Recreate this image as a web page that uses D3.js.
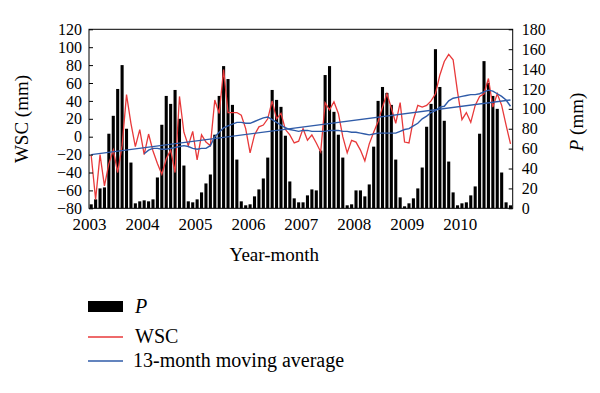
<!DOCTYPE html>
<html>
<head>
<meta charset="utf-8">
<script src="https://cdn.jsdelivr.net/npm/d3@7"></script>
<style>
  body { margin: 0; background: #fff; }
  text { font-family: "Liberation Serif", "Times New Roman", serif; fill: #000; }
</style>
</head>
<body>
<svg id="chart" width="600" height="393"></svg>
<script>
// years shown on the x axis, one bar per month
var years = [2003, 2004, 2005, 2006, 2007, 2008, 2009, 2010];

// monthly precipitation P (mm), right axis
var P = [
  4, 9, 20, 21, 75, 93, 120, 144, 80, 46, 5, 7,
  8, 7, 9, 31, 84, 113, 105, 119, 90, 43, 7, 6,
  9, 16, 25, 34, 74, 113, 143, 130, 104, 49, 7, 3,
  4, 12, 19, 30, 51, 119, 109, 102, 73, 27, 10, 6,
  6, 13, 19, 18, 58, 134, 143, 97, 74, 51, 3, 4,
  18, 18, 12, 24, 62, 108, 122, 116, 104, 49, 11, 2,
  5, 10, 20, 41, 82, 105, 160, 122, 88, 47, 16, 3,
  5, 6, 13, 22, 75, 148, 126, 113, 100, 36, 6, 3
];

// monthly WSC (mm), left axis
var WSC = [
  -21, -70, -20, -55, -30, -15, -40, -10, 47, 15, -11, 8,
  -20, 3, -16, -30, -42, -25, -15, -40, 45, 5, -10, 6,
  -26, 2, -6, -10, 41, 26, 75, 27, 27, 27, 24, 9,
  -18, 2, 11, 13, 20, 40, 20, 26, 8, 2, -7, -5,
  9, -4, 2, -7, -17, 38, 30, 39, 26, 0, -18, -4,
  -6, -15, -27, -8, 5, 17, 33, 48, 32, 15, 38, -6,
  -7, 19, 35, 33, 35, 40, 48, 69, 84, 92, 86, 50,
  19, 27, 16, 35, 45, 48, 65, 33, 48, 35, 13, -8
];

// 13-month moving average of WSC, starts 2004-01
var WSC_MA13 = [
  -19, -15, -13, -13, -14, -14, -13, -12, -11, -10, -11, -13,
  -14, -13, -13, -10, 0, 5, 10, 12, 14, 16, 16, 15,
  15, 17, 19, 21, 22, 19, 16, 13, 10, 8, 7, 6,
  7, 7, 6, 6, 6, 6, 7, 7, 7, 6, 6, 5,
  5, 4, 3, 2, 3, 4, 4, 4, 4, 4, 6, 8,
  9, 12, 15, 20, 23, 27, 29, 33, 34, 40, 43, 44,
  45, 46, 47, 47, 48, 50, 52, 51, 48, 45, 41, 34
];

// straight trend line of WSC: first and last month
var trendEnds = [-20, 41];

var wscTicks = [-80, -60, -40, -20, 0, 20, 40, 60, 80, 100, 120];
var pTicks = [0, 20, 40, 60, 80, 100, 120, 140, 160, 180];

var months = [];
years.forEach(function (y) {
  for (var m = 1; m <= 12; m++) months.push(y + "-" + (m < 10 ? "0" : "") + m);
});

var red = "#e8393a";
var blue = "#2f5ba8";

var plot = { left: 89, right: 512.7, top: 29.3, bottom: 208.3 };

var svg = d3.select("#chart");

var x = d3.scaleBand()
  .domain(months)
  .range([plot.left, plot.right])
  .paddingInner(0.3)
  .paddingOuter(0.15);

var xYear = d3.scaleLinear()
  .domain([years[0], years[years.length - 1] + 1])
  .range([plot.left, plot.right]);

var yL = d3.scaleLinear().domain([-80, 120]).range([plot.bottom, plot.top]);
var yR = d3.scaleLinear().domain([0, 180]).range([plot.bottom, plot.top]);

function cx(i) { return x(months[i]) + x.bandwidth() / 2; }

// bars
svg.append("g")
  .selectAll("rect")
  .data(P)
  .enter().append("rect")
  .attr("x", function (d, i) { return x(months[i]); })
  .attr("y", function (d) { return yR(d); })
  .attr("width", x.bandwidth())
  .attr("height", function (d) { return yR(0) - yR(d); })
  .attr("fill", "#000");

// WSC line
var line = d3.line()
  .x(function (d) { return cx(d.i); })
  .y(function (d) { return yL(d.v); });

svg.append("path")
  .datum(WSC.map(function (v, i) { return { i: i, v: v }; }))
  .attr("d", line)
  .attr("fill", "none")
  .attr("stroke", red)
  .attr("stroke-width", 1.3);

// moving average
var maStart = 12;
svg.append("path")
  .datum(WSC_MA13.map(function (v, i) { return { i: i + maStart, v: v }; }))
  .attr("d", line)
  .attr("fill", "none")
  .attr("stroke", blue)
  .attr("stroke-width", 1.4);

// straight trend line
svg.append("path")
  .datum([{ i: 0, v: trendEnds[0] }, { i: months.length - 1, v: trendEnds[1] }])
  .attr("d", line)
  .attr("fill", "none")
  .attr("stroke", blue)
  .attr("stroke-width", 1.4);

// frame
svg.append("rect")
  .attr("x", plot.left)
  .attr("y", plot.top)
  .attr("width", plot.right - plot.left)
  .attr("height", plot.bottom - plot.top)
  .attr("fill", "none")
  .attr("stroke", "#000")
  .attr("stroke-width", 1);

// axes
var leftAxis = svg.append("g")
  .attr("transform", "translate(" + plot.left + ",0)")
  .call(d3.axisLeft(yL).tickValues(wscTicks).tickSizeInner(-4).tickSizeOuter(0).tickPadding(7));

var rightAxis = svg.append("g")
  .attr("transform", "translate(" + plot.right + ",0)")
  .call(d3.axisRight(yR).tickValues(pTicks).tickSizeInner(-4).tickSizeOuter(0).tickPadding(9));

var bottomAxis = svg.append("g")
  .attr("transform", "translate(0," + plot.bottom + ")")
  .call(d3.axisBottom(xYear).tickValues(years).tickFormat(d3.format("d")).tickSize(0).tickPadding(10));

[leftAxis, rightAxis, bottomAxis].forEach(function (g) {
  g.select(".domain").remove();
  g.selectAll("line").attr("stroke", "#000");
  g.selectAll("text")
    .style("font-family", "'Liberation Serif', 'Times New Roman', serif")
    .style("font-size", "16px")
    .attr("fill", "#000");
});
bottomAxis.selectAll("text").style("font-size", "17px");

// axis titles
svg.append("text")
  .attr("transform", "translate(28,119) rotate(-90)")
  .attr("text-anchor", "middle")
  .style("font-size", "19px")
  .text("WSC (mm)");

var pTitle = svg.append("text")
  .attr("transform", "translate(583,122) rotate(-90)")
  .attr("text-anchor", "middle")
  .style("font-size", "19px");
pTitle.append("tspan").style("font-style", "italic").text("P");
pTitle.append("tspan").text(" (mm)");

svg.append("text")
  .attr("x", xYear((years[0] + years[years.length - 1]) / 2))
  .attr("y", 261)
  .attr("text-anchor", "middle")
  .style("font-size", "19px")
  .text("Year-month");

// legend
var legend = svg.append("g").attr("transform", "translate(88,0)");

legend.append("rect")
  .attr("x", 0).attr("y", 301).attr("width", 35).attr("height", 11)
  .attr("fill", "#000");
legend.append("text")
  .attr("x", 47).attr("y", 313)
  .style("font-size", "20px").style("font-style", "italic")
  .text("P");

legend.append("line")
  .attr("x1", 0).attr("x2", 35).attr("y1", 337).attr("y2", 337)
  .attr("stroke", red).attr("stroke-width", 1.3);
legend.append("text")
  .attr("x", 47).attr("y", 343)
  .style("font-size", "20px")
  .text("WSC");

legend.append("line")
  .attr("x1", 0).attr("x2", 35).attr("y1", 361).attr("y2", 361)
  .attr("stroke", blue).attr("stroke-width", 1.3);
legend.append("text")
  .attr("x", 45).attr("y", 367)
  .style("font-size", "20px")
  .text("13-month moving average");
</script>
</body>
</html>
